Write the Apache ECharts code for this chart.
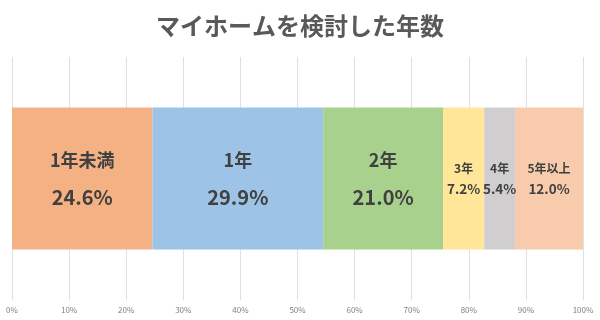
<!DOCTYPE html>
<html><head><meta charset="utf-8">
<script src="https://cdn.jsdelivr.net/npm/echarts@6/dist/echarts.min.js"></script>
<style>html,body{margin:0;padding:0;background:#fff}#c{width:600px;height:320px}</style>
</head><body><div id="c"></div>
<script>
const categories = ['1年未満','1年','2年','3年','4年','5年以上'];
const values = [24.6, 29.9, 21.0, 7.2, 5.4, 12.0];
const colors = ['#F4B183','#9DC3E6','#A9D18E','#FFE699','#D0CECE','#F8CBAD'];
const bigFlags = [true, true, true, false, false, false];
const title = 'マイホームを検討した年数';
const font = '"Noto Sans CJK JP", sans-serif';

const series = categories.map((name, i) => ({
  name: name,
  type: 'bar',
  stack: 'total',
  barWidth: 142,
  itemStyle: { color: colors[i] },
  label: {
    show: true,
    position: 'inside',
    formatter: () => bigFlags[i]
      ? '{n|' + name + '}\n{v|' + values[i].toFixed(1) + '%}'
      : '{sn|' + name + '}\n{sv|' + values[i].toFixed(1) + '%}',
    rich: {
      n: { fontSize: 18, fontWeight: 'bold', color: '#404040', fontFamily: font, lineHeight: 37 },
      v: { fontSize: 20, fontWeight: 'bold', color: '#404040', fontFamily: font, lineHeight: 37 },
      sn: { fontSize: 12, fontWeight: 'bold', color: '#404040', fontFamily: font, lineHeight: 21 },
      sv: { fontSize: 13.5, fontWeight: 'bold', color: '#404040', fontFamily: font, lineHeight: 21 }
    }
  },
  data: [values[i]]
}));

const chart = echarts.init(document.getElementById('c'));
chart.setOption({
  animation: false,
  title: {
    text: title, left: 'center', top: 9,
    textStyle: { fontSize: 24, fontWeight: 'bold', color: '#595959', fontFamily: font }
  },
  grid: { left: 12, right: 17, top: 57, bottom: 20 },
  xAxis: {
    type: 'value', min: 0, max: 100, interval: 10,
    axisLine: { show: false }, axisTick: { show: false },
    splitLine: { lineStyle: { color: '#e0e0e0', width: 1 } },
    axisLabel: { formatter: '{value}%', fontSize: 8, color: '#808080', margin: 6, fontFamily: font }
  },
  yAxis: {
    type: 'category', data: ['年数'], show: false
  },
  series: series
});
</script></body></html>
